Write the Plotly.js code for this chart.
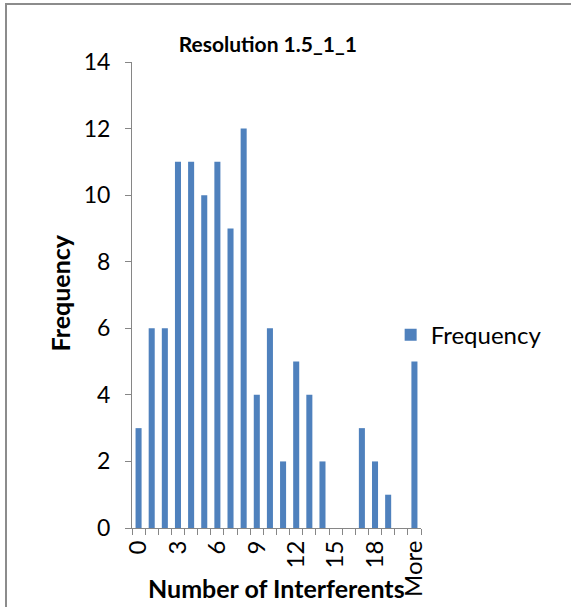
<!DOCTYPE html>
<html>
<head>
<meta charset="utf-8">
<script src="https://cdn.plot.ly/plotly-3.0.1.min.js"></script>
<style>
html,body{margin:0;padding:0;overflow:hidden;background:#fff;}
#frame{position:absolute;left:5px;top:3px;width:600px;height:650px;border:2px solid #8c8c8c;box-sizing:border-box;pointer-events:none;z-index:5;}
#chart{position:absolute;left:0;top:0;width:571px;height:607px;}
</style>
</head>
<body>
<div id="chart"></div>
<div id="frame"></div>
<script>
const categories = ["0","1","2","3","4","5","6","7","8","9","10","11","12","13","14","15","16","17","18","19","20","More"];
const frequency = [3,6,6,11,11,10,11,9,12,4,6,2,5,4,2,0,0,3,2,1,0,5];
const tickLabels = categories.map((c,i)=> i%3===0 ? c : "");
const yTicks = [0,2,4,6,8,10,12,14];
const chartTitle = "Resolution 1.5_1_1";
const xTitle = "Number of Interferents";
const yTitle = "Frequency";

const font = "Lato, 'Open Sans', sans-serif";
const trace = {
  type: "bar",
  x: categories,
  y: frequency,
  name: "Frequency",
  marker: {color: "#4F81BD"},
  hoverinfo: "none"
};
const layout = {
  width: 571, height: 607,
  margin: {l: 132, r: 150, t: 62, b: 79},
  paper_bgcolor: "#fff", plot_bgcolor: "#fff",
  bargap: 0.54,
  font: {family: font, color: "#000", size: 23},
  title: {text: "<b>" + chartTitle + "</b>", font: {size: 21, family: font}, x: 0.47, xanchor: "center", xref: "paper", y: 0.926, yanchor: "middle"},
  xaxis: {
    type: "category",
    tickvals: categories, ticktext: tickLabels,
    tickson: "boundaries",
    ticks: "outside", ticklen: 6, tickcolor: "#868686", tickwidth: 1,
    tickangle: -90,
    ticklabelstandoff: 2,
    showline: true, linecolor: "#868686", linewidth: 1,
    showgrid: false, zeroline: false,
    tickfont: {size: 24},
    automargin: false
  },
  yaxis: {
    range: [0, 14], tickvals: yTicks,
    ticks: "outside", ticklen: 6, tickcolor: "#868686",
    showline: true, linecolor: "#868686", linewidth: 1,
    showgrid: false, zeroline: false,
    ticklabelstandoff: 10,
    tickfont: {size: 23},
    automargin: false
  },
  annotations: [
    {text: "<b>" + xTitle + "</b>", xref: "paper", yref: "paper", x: 0.5, y: -0.128, xanchor: "center", yanchor: "middle", showarrow: false, font: {size: 25}},
    {text: "<b>" + yTitle + "</b>", xref: "paper", yref: "paper", x: -0.25, y: 0.505, xanchor: "center", yanchor: "middle", textangle: -90, showarrow: false, font: {size: 25}}
  ],
  showlegend: true,
  legend: {x: 0.895, xanchor: "left", y: 0.414, yanchor: "middle", font: {size: 24}, bgcolor: "rgba(0,0,0,0)"}
};
Plotly.newPlot("chart", [trace], layout, {staticPlot: true});
</script>
</body>
</html>
